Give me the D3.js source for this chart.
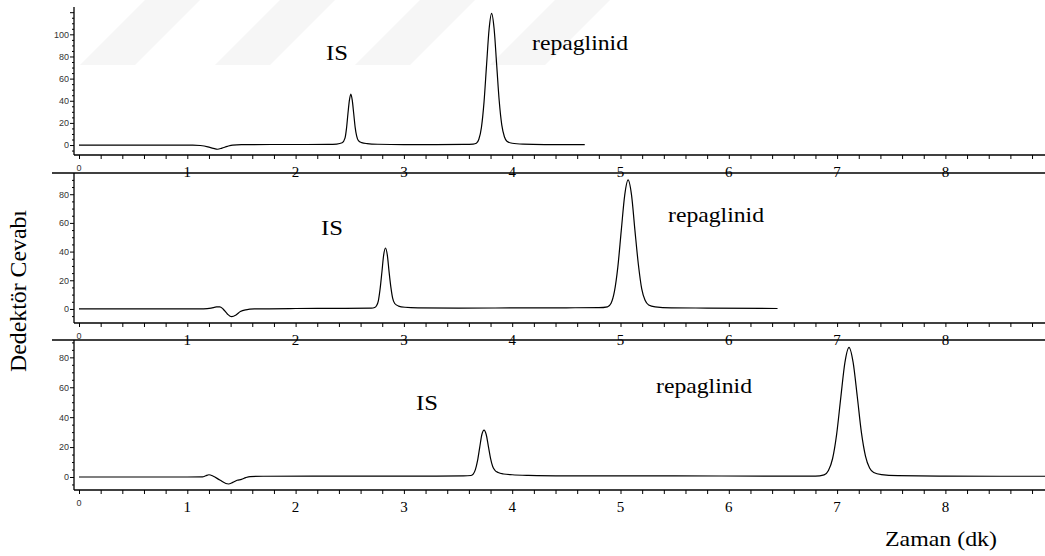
<!DOCTYPE html>
<meta charset="utf-8">
<script src="https://d3js.org/d3.v7.min.js"></script>
<style>
  body { margin: 0; background: #fff; }
  text { font-family: "Liberation Serif", "Times New Roman", serif; }
  .ax text { font-family: "Liberation Sans", Arial, sans-serif; font-size: 9px; fill: #333; }
  .ax path { display: none; }
  .ax line { stroke: #000; stroke-width: 1; }
</style>
<svg id="chart" width="1045" height="556"></svg>
<script>

  // chromatogram traces: [time (dk), detector response]
  var run1 = [[0,0],[0.4,0],[0.8,0],[1.05,0],[1.12,-0.4],[1.19,-1.6],[1.24,-3],[1.28,-3.8],[1.32,-2.8],[1.37,-1.2],[1.42,0],[1.5,0.4],[1.8,0.5],[2.1,0.5],[2.3,0.6],[2.38,0.9],[2.43,2],[2.456,6.2],[2.47,15],[2.483,28],[2.497,40.5],[2.51,46],[2.523,40.5],[2.537,28],[2.55,16],[2.564,8],[2.58,4],[2.61,2.2],[2.66,1.3],[2.76,0.7],[3.0,0.4],[3.3,0.4],[3.55,0.6],[3.64,0.9],[3.669,1.6],[3.692,5.2],[3.716,16],[3.74,39],[3.763,72],[3.787,105],[3.81,119],[3.833,105],[3.857,72],[3.88,40],[3.904,18],[3.928,7.5],[3.951,3.5],[4.0,1.6],[4.1,0.8],[4.3,0.4],[4.67,0.3]];

  var run2 = [[0,0],[0.5,0],[1.0,0],[1.15,0.1],[1.22,0.6],[1.27,1.4],[1.3,1.5],[1.33,0],[1.37,-3.5],[1.41,-5.4],[1.45,-4.2],[1.49,-1.8],[1.54,-0.6],[1.62,0],[2.0,0.3],[2.4,0.4],[2.7,0.6],[2.73,1.0],[2.747,2.2],[2.764,5.7],[2.78,13.8],[2.797,25.8],[2.813,37.5],[2.83,42.5],[2.847,37.5],[2.863,26],[2.88,15],[2.896,7.5],[2.915,3.8],[2.95,2],[3.01,1.2],[3.13,0.8],[3.5,0.6],[4.0,0.7],[4.5,0.8],[4.8,0.9],[4.88,1.5],[4.913,4],[4.944,12.2],[4.975,29],[5.007,54.6],[5.039,79.4],[5.07,90],[5.102,79.4],[5.133,55],[5.165,31],[5.196,14],[5.227,6],[5.26,2.8],[5.32,1.5],[5.47,0.8],[5.8,0.6],[6.45,0.3]];

  var run3 = [[0,0],[0.5,0],[1.0,0],[1.14,0.1],[1.17,0.8],[1.2,1.5],[1.24,0.5],[1.3,-2],[1.38,-4.7],[1.42,-3.6],[1.46,-2.2],[1.5,-1.6],[1.54,-0.4],[1.58,0.3],[1.7,0.5],[2.2,0.6],[2.8,0.6],[3.3,0.6],[3.55,0.7],[3.62,1.0],[3.64,1.9],[3.66,4.9],[3.68,10.9],[3.70,19.8],[3.72,28.4],[3.74,31.4],[3.76,28.4],[3.78,20.5],[3.80,12.5],[3.82,7],[3.84,4.5],[3.87,3],[3.92,2],[4.0,1.5],[4.15,1.1],[4.5,0.8],[5.5,0.7],[6.5,0.6],[6.8,0.6],[6.88,1.4],[6.92,4.3],[6.958,12.2],[6.996,28.7],[7.034,53.1],[7.072,76.5],[7.11,86.7],[7.148,76.6],[7.186,54],[7.224,30],[7.262,14],[7.3,6],[7.338,3],[7.41,1.6],[7.56,0.9],[8.0,0.6],[8.5,0.5],[8.92,0.5]];

  // tick labels
  var xLabels = [1, 2, 3, 4, 5, 6, 7, 8];
  var yMajor1 = [0, 20, 40, 60, 80, 100, 120];
  var yMajor23 = [0, 20, 40, 60, 80];
  var peakNames = ["IS", "repaglinid"];

  var svg = d3.select("#chart"),
      width = +svg.attr("width"),
      height = +svg.attr("height");

  var xLeft = 74;

  // watermark stripes (faint)
  [80, 215, 355, 490].forEach(function(bx) {
    svg.append("polygon")
      .attr("points", [[bx,65],[bx+55,65],[bx+120,0],[bx+65,0]].join(" "))
      .attr("fill", "#f6f6f6");
  });

  var x = d3.scaleLinear().domain([0, 8]).range([79, 945.4]);

  var panels = [
    {data: run1, top: 7, bottom: 155, dom: [-9, 124.7], major: yMajor1, labelMax: 100, sep: false,
     is: [326, 60], rep: [532, 50]},
    {data: run2, top: 173, bottom: 323, dom: [-9.8, 94.8], major: yMajor23, labelMax: 80, sep: true,
     is: [321, 235], rep: [668, 222]},
    {data: run3, top: 340, bottom: 490, dom: [-8.7, 91.6], major: yMajor23, labelMax: 80, sep: true,
     is: [416, 410], rep: [656, 393]}
  ];

  panels.forEach(function(p) {
    var y = d3.scaleLinear().domain(p.dom).range([p.bottom, p.top]);
    var g = svg.append("g");

    // separator / top line
    if (p.sep) {
      g.append("line")
        .attr("x1", 52).attr("x2", width)
        .attr("y1", p.top).attr("y2", p.top)
        .attr("stroke", "#000").attr("stroke-width", 1.5);
    }

    // y axis
    var minors = d3.range(-5, p.dom[1], 5).filter(function(d) { return d % 20 !== 0; });
    g.append("g").attr("class", "ax")
      .attr("transform", "translate(" + xLeft + ",0)")
      .call(d3.axisLeft(y).tickValues(minors).tickSize(2).tickFormat(""));
    g.append("g").attr("class", "ax")
      .attr("transform", "translate(" + xLeft + ",0)")
      .call(d3.axisLeft(y).tickValues(p.major).tickSize(4).tickPadding(1)
        .tickFormat(function(d) { return d <= p.labelMax ? d : ""; }));
    g.append("line")
      .attr("x1", xLeft).attr("x2", xLeft)
      .attr("y1", p.top).attr("y2", p.bottom)
      .attr("stroke", "#000").attr("stroke-width", 1.3);

    // x axis
    var xt = d3.range(0, 45).map(function(i) { return i * 0.2; });
    g.append("g").attr("class", "ax")
      .attr("transform", "translate(0," + p.bottom + ")")
      .call(d3.axisBottom(x).tickValues(xt).tickSize(4).tickFormat(""));
    g.append("line")
      .attr("x1", xLeft).attr("x2", width)
      .attr("y1", p.bottom).attr("y2", p.bottom)
      .attr("stroke", "#000").attr("stroke-width", 1.3);

    g.append("text")
      .attr("x", x(0)).attr("y", p.bottom + 16)
      .attr("text-anchor", "middle")
      .style("font-family", "Liberation Sans, Arial, sans-serif")
      .style("font-size", "9px").style("fill", "#333")
      .text("0");

    g.selectAll(".xl")
      .data(xLabels)
      .enter().append("text")
        .attr("x", function(d) { return x(d); })
        .attr("y", p.bottom + 21.5)
        .attr("text-anchor", "middle")
        .style("font-size", "15px")
        .text(function(d) { return d; });

    // trace
    g.append("path")
      .datum(p.data)
      .attr("d", d3.line()
        .x(function(d) { return x(d[0]); })
        .y(function(d) { return y(d[1]); })
        .curve(d3.curveMonotoneX))
      .style("fill", "none")
      .style("stroke", "#000")
      .style("stroke-width", 1.2);

    // peak names
    g.append("text")
      .attr("x", p.is[0]).attr("y", p.is[1])
      .attr("textLength", 22).attr("lengthAdjust", "spacingAndGlyphs")
      .style("font-size", "21px")
      .text(peakNames[0]);
    g.append("text")
      .attr("x", p.rep[0]).attr("y", p.rep[1])
      .attr("textLength", 96).attr("lengthAdjust", "spacingAndGlyphs")
      .style("font-size", "21px")
      .text(peakNames[1]);
  });

  // axis titles
  svg.append("text")
    .attr("transform", "translate(25.5,291) rotate(-90)")
    .attr("text-anchor", "middle")
    .attr("textLength", 162).attr("lengthAdjust", "spacingAndGlyphs")
    .style("font-size", "23px")
    .text("Dedektör Cevabı");

  svg.append("text")
    .attr("x", 885).attr("y", 546)
    .attr("textLength", 112).attr("lengthAdjust", "spacingAndGlyphs")
    .style("font-size", "22px")
    .text("Zaman (dk)");

</script>
